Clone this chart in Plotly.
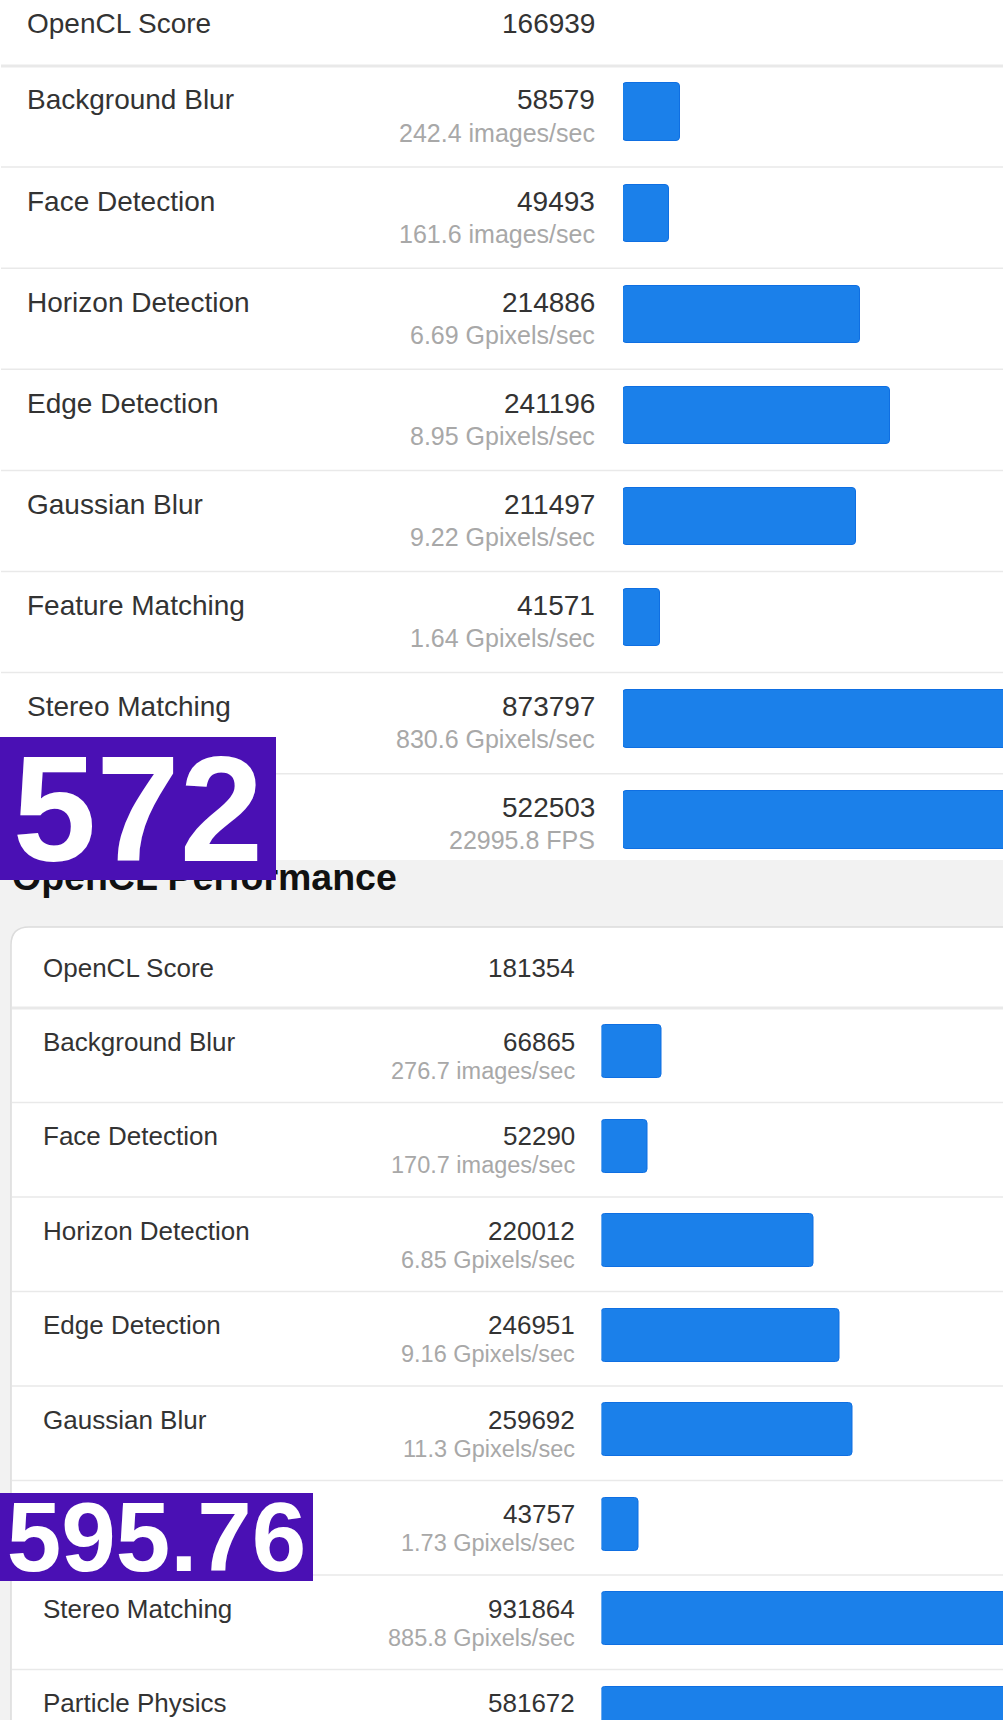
import plotly.graph_objects as go

# ---------------- data ----------------
tests = ["Background Blur", "Face Detection", "Horizon Detection", "Edge Detection",
         "Gaussian Blur", "Feature Matching", "Stereo Matching", "Particle Physics"]

top_score = 166939
top_values = [58579, 49493, 214886, 241196, 211497, 41571, 873797, 522503]
top_rates = ["242.4 images/sec", "161.6 images/sec", "6.69 Gpixels/sec", "8.95 Gpixels/sec",
             "9.22 Gpixels/sec", "1.64 Gpixels/sec", "830.6 Gpixels/sec", "22995.8 FPS"]

bottom_score = 181354
bottom_values = [66865, 52290, 220012, 246951, 259692, 43757, 931864, 581672]
bottom_rates = ["276.7 images/sec", "170.7 images/sec", "6.85 Gpixels/sec", "9.16 Gpixels/sec",
                "11.3 Gpixels/sec", "1.73 Gpixels/sec", "885.8 Gpixels/sec", ""]

score_label = "OpenCL Score"
section_title = "OpenCL Performance"
badge_top = "572"
badge_bottom = "595.76"

# ---------------- layout geometry (pixels) ----------------
W, H = 1003, 1720
FONT = "Liberation Sans, Arial, Helvetica, sans-serif"
TXT = "#333333"
SUB = "#a8a8a8"
BAR = "#1b80ea"
BAR_EDGE = "#0f6fe2"
SEP = "#e9e9e9"

TOP = dict(row0=66, pitch=101.1, bar_off=46.2, bar_h=57.5, bar_x=623, label_x=25, value_x=597,
           label_off=34, sub_off=66.5, score_y=23, fs=28, fs_sub=25, y_top=66, y_bot=860,
           x0=9460, scale=0.001152, sep_x0=0)
BOT = dict(row0=1008, pitch=94.5, bar_off=43.5, bar_h=53, bar_x=601.5, label_x=41, value_x=577,
           label_off=33.5, sub_off=62.5, score_y=967.5, fs=26, fs_sub=23.5, y_top=927, y_bot=1720,
           x0=6060, scale=0.00099, sep_x0=11)


def py(px):
    return 1 - px / H


def pxx(px):
    return px / W


fig = go.Figure()
annotations = []
shapes = []

# background of lower screenshot and its card
shapes.append(dict(type="rect", xref="paper", yref="paper", x0=0, x1=1, y0=py(1720), y1=py(860),
                   fillcolor="#f2f2f2", line_width=0, layer="below"))
r = 18
cx0, cy0 = 11, 927
card_path = (f"M {pxx(cx0)},{py(1725)} L {pxx(cx0)},{py(cy0 + r)} "
             f"Q {pxx(cx0)},{py(cy0)} {pxx(cx0 + r)},{py(cy0)} "
             f"L {pxx(1010)},{py(cy0)} L {pxx(1010)},{py(1725)} Z")
shapes.append(dict(type="path", xref="paper", yref="paper", path=card_path,
                   fillcolor="#ffffff", line=dict(color="#dcdcdc", width=1.5), layer="below"))


def panel(g, values, rates, score, xa, ya):
    n = len(values)
    center0 = g["row0"] + g["bar_off"]
    y_top_val = (g["y_top"] - center0) / g["pitch"]
    y_bot_val = (g["y_bot"] - center0) / g["pitch"]
    x_end = g["x0"] + (W - g["bar_x"]) / g["scale"]
    fig.add_trace(go.Bar(
        y=list(range(n)), x=[v - g["x0"] for v in values], base=g["x0"],
        orientation="h", width=g["bar_h"] / g["pitch"],
        marker=dict(color=BAR, line=dict(color=BAR_EDGE, width=1), cornerradius=4),
        xaxis=xa, yaxis=ya, showlegend=False, hoverinfo="skip"))
    axname = "xaxis" if xa == "x" else "xaxis" + xa[1:]
    ayname = "yaxis" if ya == "y" else "yaxis" + ya[1:]
    fig.layout[axname] = dict(domain=[g["bar_x"] / W, 1], range=[g["x0"], x_end],
                              visible=False, fixedrange=True, anchor=ya)
    fig.layout[ayname] = dict(domain=[py(g["y_bot"]), py(g["y_top"])],
                              range=[y_bot_val, y_top_val], visible=False, fixedrange=True, anchor=xa)

    annotations.append(dict(text=score_label, x=pxx(g["label_x"]), y=py(g["score_y"]),
                            xanchor="left", yanchor="middle",
                            font=dict(size=g["fs"], color=TXT, family=FONT)))
    annotations.append(dict(text=str(score), x=pxx(g["value_x"]), y=py(g["score_y"]),
                            xanchor="right", yanchor="middle",
                            font=dict(size=g["fs"], color=TXT, family=FONT)))
    for i in range(n):
        top_px = g["row0"] + g["pitch"] * i
        sep_w = 3 if i == 0 else 1.5
        shapes.append(dict(type="line", xref="paper", yref="paper", x0=pxx(g["sep_x0"] + 1), x1=1,
                           y0=py(top_px), y1=py(top_px), line=dict(color=SEP, width=sep_w),
                           layer="below"))
        if top_px + g["label_off"] < g["y_bot"]:
            annotations.append(dict(text=tests[i], x=pxx(g["label_x"]), y=py(top_px + g["label_off"]),
                                    xanchor="left", yanchor="middle",
                                    font=dict(size=g["fs"], color=TXT, family=FONT)))
            annotations.append(dict(text=str(values[i]), x=pxx(g["value_x"]),
                                    y=py(top_px + g["label_off"]), xanchor="right", yanchor="middle",
                                    font=dict(size=g["fs"], color=TXT, family=FONT)))
        if rates[i] and top_px + g["sub_off"] < g["y_bot"]:
            annotations.append(dict(text=rates[i], x=pxx(g["value_x"]), y=py(top_px + g["sub_off"]),
                                    xanchor="right", yanchor="middle",
                                    font=dict(size=g["fs_sub"], color=SUB, family=FONT)))


panel(TOP, top_values, top_rates, top_score, "x", "y")

annotations.append(dict(text=f"<b>{section_title}</b>", x=pxx(10), y=py(877), xanchor="left",
                        yanchor="middle", font=dict(size=37.5, color="#111111", family=FONT)))

panel(BOT, bottom_values, bottom_rates, bottom_score, "x2", "y2")

# overlay badges (drawn last so they sit on top)
annotations.append(dict(text=f"<b>{badge_top}</b>", x=0, y=py(737), xanchor="left", yanchor="top",
                        width=276, height=143, align="center", valign="middle",
                        bgcolor="#4a10b4", borderpad=0, borderwidth=0,
                        font=dict(size=150, color="#ffffff", family=FONT)))
annotations.append(dict(text=f"<b>{badge_bottom}</b>", x=0, y=py(1493), xanchor="left", yanchor="top",
                        width=313, height=88, align="center", valign="middle",
                        bgcolor="#4a10b4", borderpad=0, borderwidth=0,
                        font=dict(size=98, color="#ffffff", family=FONT)))

for a in annotations:
    a.setdefault("xref", "paper")
    a.setdefault("yref", "paper")
    a.setdefault("showarrow", False)

fig.update_layout(width=W, height=H, margin=dict(l=0, r=0, t=0, b=0),
                  paper_bgcolor="#ffffff", plot_bgcolor="rgba(0,0,0,0)",
                  bargap=0, annotations=annotations, shapes=shapes)

fig.write_html("out.html", config={"displayModeBar": False},
               post_script="document.body.style.margin='0';document.body.style.padding='0';"
                           "document.body.style.overflow='hidden';")
